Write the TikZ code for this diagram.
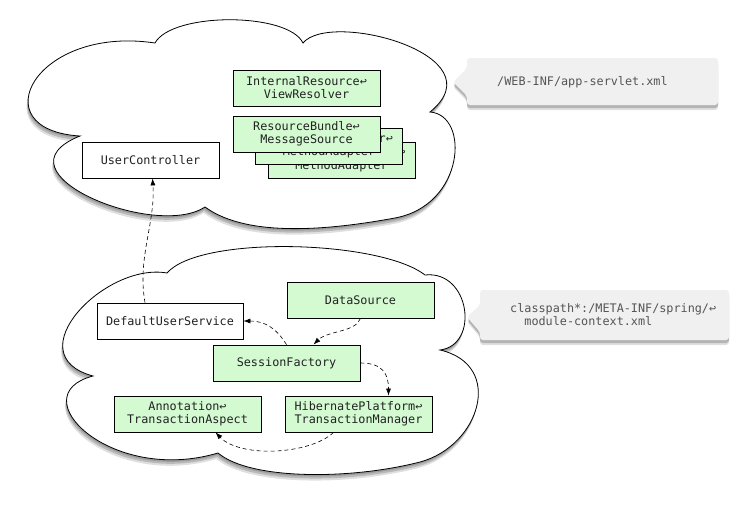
\documentclass[tikz,border=0pt]{standalone}
\usepackage{fontspec}
\setmonofont{DejaVu Sans Mono}
\usepackage{tikz}
\usetikzlibrary{arrows.meta,positioning,shadows}
\definecolor{sgreen}{HTML}{D4FAD2}
\definecolor{snote}{HTML}{F0F0F0}
\definecolor{snotetext}{HTML}{555555}
\definecolor{sink}{HTML}{222222}

\begin{document}
\begin{tikzpicture}[x=1pt,y=-1pt,
  every node/.style={font=\ttfamily\fontsize{11.8}{13}\selectfont,text=sink},
  bean/.style={draw=black,line width=0.8pt,fill=sgreen,minimum width=147pt,minimum height=36pt,inner sep=0pt,align=center},
  plainbean/.style={bean,fill=white},
  ctxcloud/.style={draw=black,line width=0.8pt,fill=white,
    drop shadow={shadow xshift=-1.5pt,shadow yshift=-6pt,opacity=.25},
    drop shadow={shadow xshift=-1pt,shadow yshift=-4pt,opacity=.4},
    drop shadow={shadow xshift=-.5pt,shadow yshift=-2pt,opacity=.5}},
  notebox/.style={fill=snote,rounded corners=3pt,
    drop shadow={shadow xshift=0pt,shadow yshift=-5pt,opacity=.25},
    drop shadow={shadow xshift=0pt,shadow yshift=-3pt,opacity=.45}},
  notetext/.style={text=snotetext,align=left,inner sep=0pt},
  dep/.style={-{Latex[length=7pt,width=5pt]},dash pattern=on 4pt off 3pt,line width=0.6pt}]
  \useasboundingbox (0,0) rectangle (748,506);

  % web context cloud
  \path[ctxcloud] (80,136) .. controls (-20,130) and (35,25) .. (155,43)
    .. controls (172,12) and (288,12) .. (303,43)
    .. controls (330,10) and (500,55) .. (430,112)
    .. controls (470,115) and (465,205) .. (395,218)
    .. controls (340,228) and (250,240) .. (205,207)
    .. controls (155,240) and (-10,172) .. (80,136) -- cycle;
  % root context cloud
  \path[ctxcloud] (167,273) .. controls (105,262) and (15,355) .. (93,376)
    .. controls (20,395) and (110,485) .. (218,453)
    .. controls (250,480) and (350,480) .. (420,462)
    .. controls (480,446) and (505,365) .. (440,350)
    .. controls (480,345) and (470,270) .. (425,275)
    .. controls (380,240) and (200,235) .. (167,273) -- cycle;

  % config file notes
  \path[notebox] (467,58) -- (718,58) -- (718,105) -- (467,105) -- (467,96) -- (453,82) -- (467,68) -- cycle;
  \node[notetext,anchor=west] (servletxml) at (497,82) {/WEB-INF/app-servlet.xml};
  \path[notebox] (480,290) -- (729,290) -- (729,340) -- (480,340) -- (480,332) -- (467,317) -- (480,305) -- cycle;
  \node[notetext,anchor=west] (modulexml) at (510,315) {classpath*:/META-INF/spring/↩\\\phantom{cl}module-context.xml};

  % web beans
  \node[bean] (ivr) at (306.5,88) {InternalResource↩\\ViewResolver};
  \node[bean] (hma2) at (341.5,160) {\phantom{00000000000000000}↩\\MethodAdapter};
  \node[bean] (hma1) at (329,146) {\phantom{0000000000000000}r↩\\MethodAdapter};
  \node[bean] (rbms) at (306.5,134) {ResourceBundle↩\\MessageSource};
  \node[plainbean,minimum width=137pt] (uc) at (150.5,160) {UserController};

  % root beans
  \node[plainbean,minimum width=146pt] (dus) at (170,321) {DefaultUserService};
  \node[bean] (ds) at (360.5,300) {DataSource};
  \node[bean] (sf) at (286.5,363) {SessionFactory};
  \node[bean] (ata) at (187.5,414) {Annotation↩\\TransactionAspect};
  \node[bean] (hptm) at (358.5,414) {HibernatePlatform↩\\TransactionManager};

  % dependencies
  \draw[dep] ([xshift=-25pt]dus.north) .. controls +(-8,-45) and +(3,45) .. ([xshift=2pt]uc.south);
  \draw[dep] (sf.north) .. controls +(-10,-16) and +(22,0) .. (dus.east);
  \draw[dep] (ds.south) .. controls +(-5,14) and +(14,-14) .. ([xshift=27pt]sf.north);
  \draw[dep] (sf.east) .. controls +(22,0) and +(0,-22) .. ([xshift=30pt]hptm.north);
  \draw[dep] ([xshift=-25pt]hptm.south) .. controls +(-23,22) and +(25,26) .. ([xshift=28pt]ata.south);
\end{tikzpicture}
\end{document}
